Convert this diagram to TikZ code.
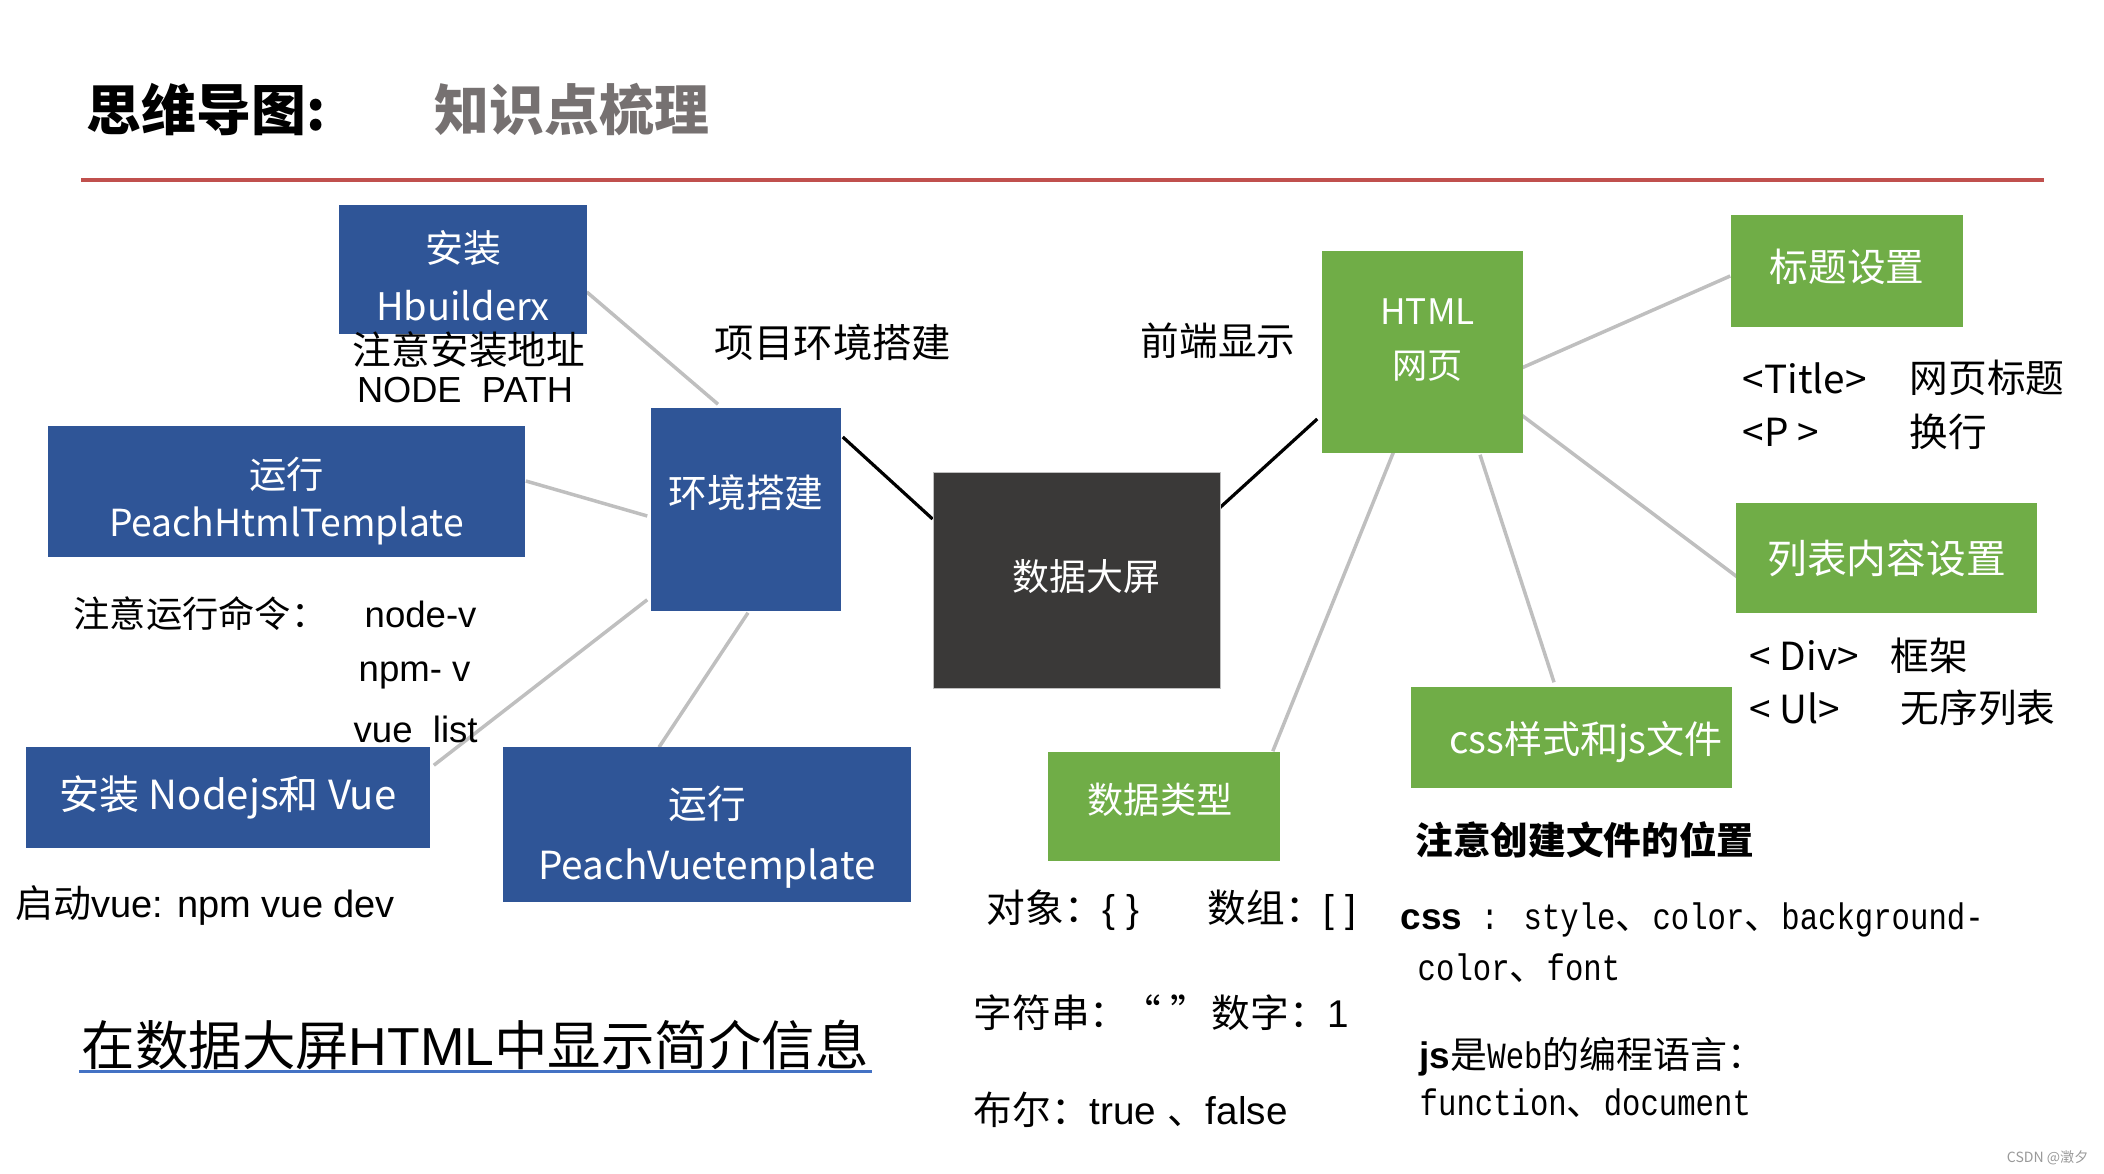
\documentclass[tikz,border=0pt]{standalone}
\usepackage{fontspec}
\setmainfont{Liberation Sans}
\newfontfamily\cjk{Noto Sans CJK SC}
\newfontfamily\mono[FakeStretch=0.83]{Liberation Mono}
\usetikzlibrary{calc,backgrounds}
\definecolor{boxblue}{HTML}{2F5597}
\definecolor{boxgreen}{HTML}{70AD47}
\definecolor{boxdark}{HTML}{3A3938}
\definecolor{linegray}{HTML}{BFBFBF}
\definecolor{redline}{HTML}{C0504D}
\definecolor{titlegray}{HTML}{767171}
\definecolor{ulblue}{HTML}{4472C4}
\newcommand\fsz[2]{\fontsize{#1}{#2}\selectfont}
\begin{document}
\begin{tikzpicture}[x=0.01cm,y=-0.01cm,
  box/.style={rectangle, inner sep=0pt},
  bluebox/.style={box, fill=boxblue},
  greenbox/.style={box, fill=boxgreen},
  darkbox/.style={box, fill=boxdark, draw=black!25, line width=0.2pt},
  boxtxt/.style={inner sep=0pt, text=white, align=center},
  conn/.style={draw=linegray, line width=0.035cm},
  bconn/.style={draw=black, line width=0.032cm},
  lt/.style={inner sep=0pt, anchor=west},
  ct/.style={inner sep=0pt, anchor=center}
]
\useasboundingbox (0,0) rectangle (2104,1174);

% ---------- title ----------
\node[lt, font=\cjk\bfseries\fsz{15.6}{18}] (t1) at (86,110) {思维导图:};
\node[lt, font=\cjk\bfseries\fsz{15.6}{18}, text=titlegray] (t2) at (434,110) {知识点梳理};
\coordinate (rl1) at (81,180);
\coordinate (rl2) at (2044,180);
\draw[redline, line width=0.045cm] (rl1) -- (rl2);

% ---------- boxes ----------
\node[bluebox, minimum width=2.48cm, minimum height=1.29cm,
  label={[name=hbt, boxtxt, font=\cjk\fsz{10.8}{16.5}, yshift=-0.065cm]center:{安装\\Hbuilderx}}] (hb) at (463,269.5) {};
\node[bluebox, minimum width=1.90cm, minimum height=2.03cm,
  label={[name=envt, boxtxt, font=\cjk\fsz{11}{13}, yshift=0.165cm]center:{环境搭建}}] (env) at (746,509.5) {};
\node[bluebox, minimum width=4.77cm, minimum height=1.30cm,
  label={[name=phtt, boxtxt, font=\cjk\fsz{10.6}{13.7}, yshift=-0.095cm]center:{运行\\PeachHtmlTemplate}}] (pht) at (286.5,491.5) {};
\node[bluebox, minimum width=4.04cm, minimum height=1.01cm,
  label={[name=nodt, boxtxt, font=\cjk\fsz{11.4}{13}]center:{安装 Nodejs和 Vue}}] (nod) at (228,797.5) {};
\node[bluebox, minimum width=4.08cm, minimum height=1.55cm,
  label={[name=pvtt, boxtxt, font=\cjk\fsz{11}{17.4}, yshift=-0.13cm]center:{运行\\PeachVuetemplate}}] (pvt) at (707,824.5) {};
\node[darkbox, minimum width=2.87cm, minimum height=2.16cm,
  label={[name=bigt, boxtxt, font=\cjk\fsz{10.5}{12}, xshift=0.1cm, yshift=0.03cm]center:{数据大屏}}] (big) at (1076.5,580) {};
\node[greenbox, minimum width=2.01cm, minimum height=2.02cm,
  label={[name=htmlt, boxtxt, font=\cjk\fsz{10}{15.4}, xshift=0.05cm, yshift=0.12cm]center:{HTML\\网页}}] (html) at (1422.5,352) {};
\node[greenbox, minimum width=2.32cm, minimum height=1.12cm,
  label={[name=ttlt, boxtxt, font=\cjk\fsz{11}{13}, yshift=0.04cm]center:{标题设置}}] (ttl) at (1847,271) {};
\node[greenbox, minimum width=3.01cm, minimum height=1.10cm,
  label={[name=lstt, boxtxt, font=\cjk\fsz{11.3}{13}]center:{列表内容设置}}] (lst) at (1886.5,558) {};
\node[greenbox, minimum width=3.21cm, minimum height=1.01cm,
  label={[name=csst, boxtxt, font=\cjk\fsz{10.8}{13}, xshift=0.145cm, yshift=-0.045cm]center:{css样式和js文件}}] (css) at (1571.5,737.5) {};
\node[greenbox, minimum width=2.32cm, minimum height=1.09cm,
  label={[name=dtt, boxtxt, font=\cjk\fsz{10.3}{12}, xshift=-0.04cm, yshift=0.065cm]center:{数据类型}}] (dt) at (1164,806.5) {};

% ---------- connectors ----------
\begin{scope}[on background layer]
\draw[conn] ($(hb.east)+(-1,22.5)$) -- ($(env.north)+(-28,-3)$);
\draw[conn] ($(pht.east)+(0,-10.5)$) -- ($(env.west)+(-3,6.5)$);
\draw[conn] ($(nod.north east)+(3,19)$) -- ($(env.south west)+(-3,-12)$);
\draw[conn] ($(pvt.north)+(-48,1)$) -- ($(env.south)+(2,1)$);
\draw[bconn] ($(env.east)+(1,-72.5)$) -- ($(big.west)+(0,-61)$);
\draw[bconn] ($(big.east)+(-2,-71)$) -- ($(html.west)+(-4,67)$);
\draw[conn] ($(html.east)+(-9,19)$) -- ($(ttl.west)+(0,5)$);
\draw[conn] ($(html.east)+(-9,58)$) -- ($(lst.west)+(6,22)$);
\draw[conn] ($(html.south)+(57.5,1)$) -- ($(css.north)+(-17.5,-4)$);
\draw[conn] ($(html.south)+(-28.5,-3)$) -- ($(dt.north east)+(-8,0)$);
\end{scope}

% ---------- free texts ----------
\node[ct, font=\cjk\fsz{11}{13}] (n1) at (469,350) {注意安装地址};
\node[ct, font=\fsz{10.3}{12}] (n2) at (465,390) {NODE\ \ PATH};
\node[ct, font=\cjk\fsz{11.2}{13}] (l1) at (833,342) {项目环境搭建};
\node[ct, font=\cjk\fsz{11}{13}] (l2) at (1218,341) {前端显示};

\node[lt, font=\cjk\fsz{10.3}{12}] (n3) at (73,614) {注意运行命令：};
\node[lt, font=\fsz{10.4}{12}] (c1) at (364,614) {node-v};
\node[lt, font=\fsz{10.4}{12}] (c2) at (358,675) {npm- v};
\node[lt, font=\fsz{10.4}{12}] (c3) at (353,729) {vue\ \ list};
\node[lt, font=\fsz{10.8}{12}] (n4) at (15,905) {{\cjk 启动}vue: npm vue dev};

\node[lt, font=\cjk\fsz{11}{13}] (h1) at (1742,378) {<Title>};
\node[lt, font=\cjk\fsz{11}{13}] (h2) at (1909,378) {网页标题};
\node[lt, font=\cjk\fsz{11}{13}] (h3) at (1742,432) {<P >};
\node[lt, font=\cjk\fsz{11}{13}] (h4) at (1909,432) {换行};
\node[lt, font=\cjk\fsz{11}{13}] (h5) at (1749,656) {< Div>};
\node[lt, font=\cjk\fsz{11}{13}] (h6) at (1890,656) {框架};
\node[lt, font=\cjk\fsz{11}{13}] (h7) at (1749,708) {< Ul>};
\node[lt, font=\cjk\fsz{11}{13}] (h8) at (1900,708) {无序列表};

\node[lt, font=\cjk\bfseries\fsz{10.7}{13}] (n5) at (1415,840) {注意创建文件的位置};
\node[lt, font=\fsz{11}{13}] (d1) at (986,910) {{\cjk 对象：}\{ \}};
\node[lt, font=\fsz{11}{13}] (d2) at (1207,910) {{\cjk 数组：}[ ]};
\node[lt, font=\fsz{11}{13}] (d3) at (973,1013) {{\cjk 字符串：}{\cjk\kern-0.15em “ ”}};
\node[lt, font=\fsz{11}{13}] (d4) at (1211,1013) {{\cjk 数字：}1};
\node[lt, font=\fsz{11}{13}] (d5) at (973,1110) {{\cjk 布尔：}true {\cjk 、}false};

\node[lt, font=\fsz{10.5}{13}] (s1) at (1400,920) {{\bfseries css}{\mono{} : style}{\cjk 、}{\mono color}{\cjk 、}{\mono background-}};
\node[lt, font=\fsz{10.5}{13}] (s2) at (1417,968) {{\mono color}{\cjk 、}{\mono font}};
\node[lt, font=\fsz{10.5}{13}] (s3) at (1419,1057) {{\bfseries js}{\cjk 是}{\mono Web}{\cjk 的编程语言：}};
\node[lt, font=\fsz{10.5}{13}] (s4) at (1419,1103) {{\mono function}{\cjk 、}{\mono document}};

\node[lt, font=\fsz{15.2}{18}] (ul) at (81,1045) {{\cjk 在数据大屏}HTML{\cjk 中显示简介信息}};
\draw[ulblue, line width=0.03cm] ($(ul.south west)+(-2,1)$) -- ($(ul.south east)+(3,1)$);

\node[inner sep=0pt, anchor=east, font=\cjk\fsz{4}{5}, text=black!40] (wm) at (2089,1158) {CSDN @澂夕};
\end{tikzpicture}
\end{document}
